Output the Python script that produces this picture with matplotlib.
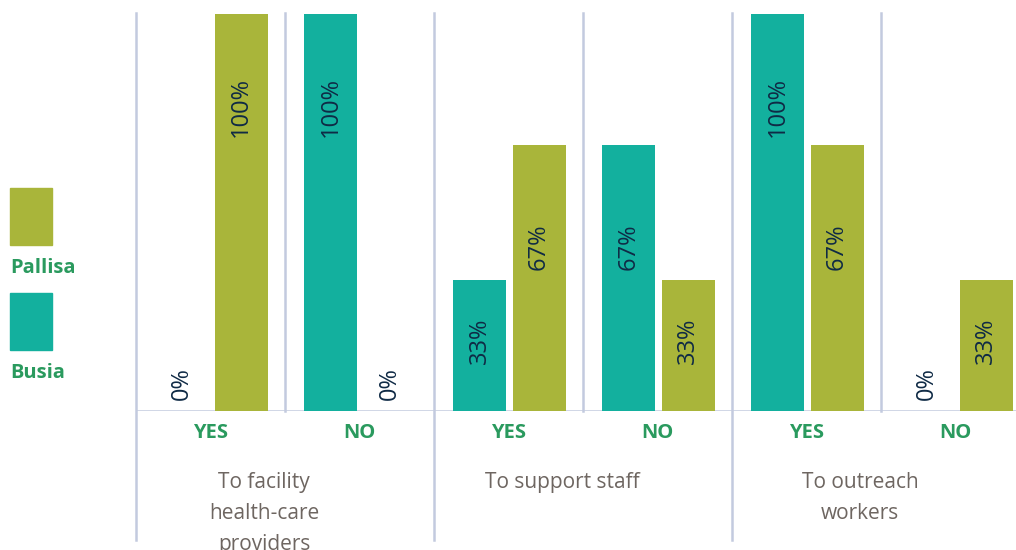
import numpy as np
import matplotlib
matplotlib.use("Agg")
import matplotlib.pyplot as plt
from matplotlib.patches import Rectangle

# survey answers, one entry per YES/NO column
groups = ["To facility\nhealth-care\nproviders", "To support staff", "To outreach\nworkers"]
answers = ["YES", "NO", "YES", "NO", "YES", "NO"]
busia = [0, 100, 33, 67, 100, 0]
pallisa = [100, 0, 67, 33, 67, 33]

PALLISA_COLOR = "#a9b53a"
BUSIA_COLOR = "#13b09e"
LINE_COLOR = "#c3cadf"
LABEL_COLOR = "#0f2a45"
GREEN_TEXT = "#2a9a5e"
GREY_TEXT = "#6e6661"

plt.rcParams["font.family"] = ["Open Sans", "DejaVu Sans"]

fig = plt.figure(figsize=(10.16, 5.5), dpi=100)
ax = fig.add_axes([136 / 1016, 1 - 411 / 550, 1 - 136 / 1016, 397 / 550])

n = len(answers)
x = np.arange(n)
width = 0.356
ax.bar(x + 0.305, busia, width, color=BUSIA_COLOR, zorder=2)
ax.bar(x + 0.705, pallisa, width, color=PALLISA_COLOR, zorder=2)


def label_y(v):
    # where the rotated percentage sits inside (or above) a bar
    return 7 + 0.138 * v + 0.00558 * v ** 2


for xs, vals in ((x + 0.305, busia), (x + 0.705, pallisa)):
    for xi, v in zip(xs, vals):
        ax.text(xi, label_y(v), f"{v}%", rotation=90, ha="center", va="center",
                fontsize=17, color=LABEL_COLOR, zorder=3)

# column dividers and the longer group separators
for i in range(n + 1):
    if i % 2 == 0:
        ax.plot([i, i], [-32.5, 100.2], color=LINE_COLOR, lw=1.8,
                clip_on=False, zorder=1)
    else:
        ax.plot([i, i], [0, 100.2], color=LINE_COLOR, lw=1.8,
                clip_on=False, zorder=1)
ax.axhline(0, color=LINE_COLOR, lw=1.8, zorder=1)

# YES / NO under each column
for i, a in enumerate(answers):
    ax.text(i + 0.5, -5.5, a, ha="center", va="center", fontsize=14.5,
            fontweight="bold", color=GREEN_TEXT)

# group names under each pair of columns
for g, name in enumerate(groups):
    ax.text(2 * g + 1 - 0.14, -15.3, name, ha="center", va="top",
            fontsize=15, color=GREY_TEXT, linespacing=1.62)

ax.set_xlim(0, (1016 - 136) / 149)
ax.set_ylim(0, 100)
ax.axis("off")

# legend swatches on the left
for top, color, name in ((188, PALLISA_COLOR, "Pallisa"), (293, BUSIA_COLOR, "Busia")):
    fig.patches.append(Rectangle((10 / 1016, 1 - (top + 57) / 550), 42 / 1016, 57 / 550,
                                 transform=fig.transFigure, color=color))
    fig.text(10 / 1016, 1 - (top + 80) / 550, name, ha="left", va="center",
             fontsize=14.5, fontweight="bold", color=GREEN_TEXT)

fig.savefig("out.png", dpi=100)
